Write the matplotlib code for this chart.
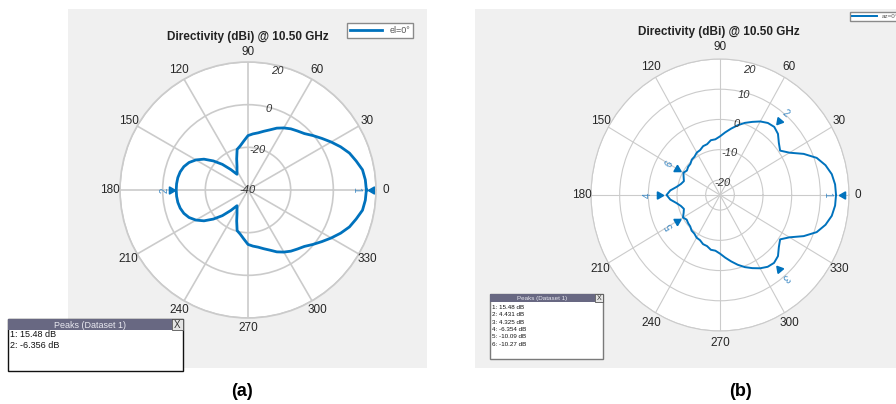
"""Directivity polar patterns at 10.50 GHz, panels (a) and (b)."""

import matplotlib

matplotlib.use("Agg")

import matplotlib.pyplot as plt
import numpy as np
from matplotlib.patches import Rectangle

plt.rcParams["font.family"] = ["Liberation Sans", "DejaVu Sans"]

W, H = 896, 404
BLUE = "#0072BD"
LABEL_BLUE = "#3f8ac4"
PANEL_GREY = "#f0f0f0"
GRID_GREY = "#cbcbcb"

ANGLES_DEG = list(range(0, 360, 5))

# (a) el=0 cut, dBi, every 5 degrees
DIR_A = [
    15.48, 15.2, 14.5, 12.5, 10.6, 7.9, 5.0, 2.2, -0.3, -2.6,
    -3.9, -5.0, -6.4, -8.0, -10.0, -11.5, -12.8, -13.6, -14.5, -17.0,
    -19.0, -20.3, -24.5, -27.8, -29.7, -31.0, -27.5, -23.0, -18.8, -14.8,
    -11.8, -9.5, -8.0, -7.1, -6.6, -6.4, -6.356, -6.4, -6.6, -7.1,
    -8.0, -9.5, -11.8, -14.8, -18.8, -23.0, -27.5, -31.0, -29.7, -27.8,
    -24.5, -20.3, -19.0, -17.0, -14.5, -13.6, -12.8, -11.5, -10.0, -8.0,
    -6.4, -5.0, -3.9, -2.6, -0.3, 2.2, 5.0, 7.9, 10.6, 12.5,
    14.5, 15.2,
]

# (b) az=0 cut, dBi, every 5 degrees
DIR_B = [
    15.48, 15.3, 14.6, 13.1, 10.9, 7.2, 3.0, 0.6, 1.8, 3.6,
    4.431, 4.1, 3.1, 1.7, 0.4, -1.1, -2.7, -4.2, -5.6, -6.5,
    -6.6, -7.6, -7.8, -8.6, -8.8, -9.5, -9.7, -10.4, -10.5, -10.9,
    -10.27, -11.0, -11.6, -10.9, -9.6, -7.6, -6.354, -7.6, -9.6, -10.9,
    -11.6, -11.0, -10.09, -10.8, -10.5, -10.3, -9.6, -9.4, -8.7, -8.5,
    -7.7, -7.5, -6.6, -6.5, -5.6, -4.2, -2.7, -1.1, 0.4, 1.7,
    3.0, 4.0, 4.325, 3.6, 1.8, 0.6, 3.0, 7.2, 10.9, 13.1,
    14.6, 15.3,
]

PEAK_A_ANG = [0, 180]
PEAK_A_VAL = [15.48, -6.356]
PEAK_B_ANG = [0, 50, 310, 180, 210, 150]
PEAK_B_VAL = [15.48, 4.431, 4.325, -6.354, -10.09, -10.27]

PEAK_A_TEXT = ["1: 15.48 dB", "2: -6.356 dB"]
PEAK_B_TEXT = ["1: 15.48 dB", "2: 4.431 dB", "3: 4.325 dB",
               "4: -6.354 dB", "5: -10.09 dB", "6: -10.27 dB"]

THETA_TICKS = list(range(0, 360, 30))
RTICKS_A = [-40, -20, 0, 20]
RTICKS_B = [-20, -10, 0, 10, 20]


def px_rect(x0, y0, x1, y1):
    """Pixel box (top-left origin) -> figure fraction rect."""
    return [x0 / W, 1 - y1 / H, (x1 - x0) / W, (y1 - y0) / H]


def polar_panel(fig, rect, rmin, rticks, grid_lw, lab_rx, lab_ry):
    ax = fig.add_axes(rect, projection="polar")
    ax.set_aspect("auto")
    ax.set_ylim(rmin, 20)
    ax.set_yticks(rticks)
    ax.set_yticklabels([])
    ax.set_xticks(np.deg2rad(THETA_TICKS))
    ax.set_xticklabels([])
    ax.grid(color=GRID_GREY, linewidth=grid_lw)
    ax.spines["polar"].set_color(GRID_GREY)
    ax.spines["polar"].set_linewidth(grid_lw)
    # angle labels, centred a fixed distance outside the rim
    for a in THETA_TICKS:
        t = np.deg2rad(a)
        ax.text(0.5 + lab_rx * np.cos(t), 0.5 + lab_ry * np.sin(t), str(a), transform=ax.transAxes,
                ha="center", va="center", fontsize=8.5, color="#262626")
    # radial labels along the 76 deg spoke
    for r in rticks:
        if r == rmin:
            pos = rmin
        elif r == 20:
            pos = r - 2.3
        else:
            pos = r - 0.8
        ax.text(np.deg2rad(76) if r != rmin else 0, pos, str(r), ha="center", va="center",
                fontsize=8, style="italic", color="#333333")
    return ax


def peak_marks(ax, angles, values, label_off):
    for i, (ang, val) in enumerate(zip(angles, values)):
        t = np.deg2rad(ang)
        ax.plot([t], [val + 2.5], marker=(3, 0, ang + 90), ms=6, color=BLUE,
                linestyle="none", clip_on=False)
        ax.text(t, val + label_off[i], str(i + 1), rotation=ang - 90, rotation_mode="anchor",
                ha="center", va="center", fontsize=7, color=LABEL_BLUE)


def peaks_box(ov, x0, y0, x1, y1, bar_h, lines, fs, line_y0, line_dy, edge):
    ov.add_patch(Rectangle((x0, y0), x1 - x0, y1 - y0, facecolor="white", edgecolor=edge, lw=1))
    ov.add_patch(Rectangle((x0, y0), x1 - x0 - bar_h, bar_h, facecolor="#686882", edgecolor="none"))
    ov.add_patch(Rectangle((x1 - bar_h, y0), bar_h, bar_h, facecolor="#e4e4e4", edgecolor="#555555", lw=0.6))
    ov.text((x0 + x1 - bar_h) / 2, y0 + bar_h / 2 + 0.5, "Peaks (Dataset 1)", ha="center", va="center",
            fontsize=fs, color="#e8e8f0")
    ov.text(x1 - bar_h / 2, y0 + bar_h / 2 + 0.5, "X", ha="center", va="center", fontsize=fs + 0.5,
            color="#333333")
    for k, s in enumerate(lines):
        ov.text(x0 + 2, line_y0 + k * line_dy, s, ha="left", va="center", fontsize=fs, color="#111111")


fig = plt.figure(figsize=(W / 100, H / 100), dpi=100)

bg = fig.add_axes([0, 0, 1, 1], zorder=-1)
bg.set_xlim(0, W)
bg.set_ylim(H, 0)
bg.axis("off")
bg.add_patch(Rectangle((68, 9), 359, 359, facecolor=PANEL_GREY, edgecolor="none"))
bg.add_patch(Rectangle((475, 9), 421, 359, facecolor=PANEL_GREY, edgecolor="none"))

theta = np.deg2rad(ANGLES_DEG + [360])

# panel (a)
ax_a = polar_panel(fig, px_rect(120, 62, 376, 318), -40, RTICKS_A, 1.2, 138 / 256, 138 / 256)
ax_a.plot(theta, DIR_A + DIR_A[:1], color=BLUE, linewidth=2, label="el=0°")
peak_marks(ax_a, PEAK_A_ANG, PEAK_A_VAL, [-4.5, 5.6])
ax_a.legend(loc="upper right", bbox_to_anchor=(418 / W, 1 - 18 / H), bbox_transform=fig.transFigure,
            fontsize=6.5, fancybox=False, edgecolor="#8a8a8a", handlelength=3.6, borderpad=0.35,
            labelcolor="#555555", framealpha=1)

# panel (b)
ax_b = polar_panel(fig, px_rect(591, 59, 849, 331), -25, RTICKS_B, 0.8, 138 / 258, 148 / 272)
ax_b.plot(theta, DIR_B + DIR_B[:1], color=BLUE, linewidth=1.4, label="az=0°")
peak_marks(ax_b, PEAK_B_ANG, PEAK_B_VAL, [-2.9, 6.0, 6.0, 6.7, 5.5, 5.5])
ax_b.legend(loc="upper left", bbox_to_anchor=(847 / W, 1 - 9 / H), bbox_transform=fig.transFigure,
            fontsize=4.5, fancybox=False, edgecolor="#8a8a8a", handlelength=4, borderpad=0.3,
            labelcolor="#555555", framealpha=1)

fig.text(248 / W, 1 - 37 / H, "Directivity (dBi) @ 10.50 GHz", ha="center", va="center",
         fontsize=8.5, fontweight="bold", color="#222222")
fig.text(719 / W, 1 - 32 / H, "Directivity (dBi) @ 10.50 GHz", ha="center", va="center",
         fontsize=8.5, fontweight="bold", color="#222222")

ov = fig.add_axes([0, 0, 1, 1], zorder=5)
ov.set_xlim(0, W)
ov.set_ylim(H, 0)
ov.axis("off")
ov.patch.set_alpha(0)

peaks_box(ov, 8, 319, 183, 371, 11, PEAK_A_TEXT, 6.5, 334.5, 10.5, "#111111")
peaks_box(ov, 490, 294, 603, 359, 8, PEAK_B_TEXT, 4.5, 307.5, 7.3, "#7a7a7a")

ov.text(242, 392, "(a)", ha="center", va="center", fontsize=13, fontweight="bold")
ov.text(741, 392, "(b)", ha="center", va="center", fontsize=13, fontweight="bold")

fig.savefig("out.png", dpi=100)
plt.close(fig)
